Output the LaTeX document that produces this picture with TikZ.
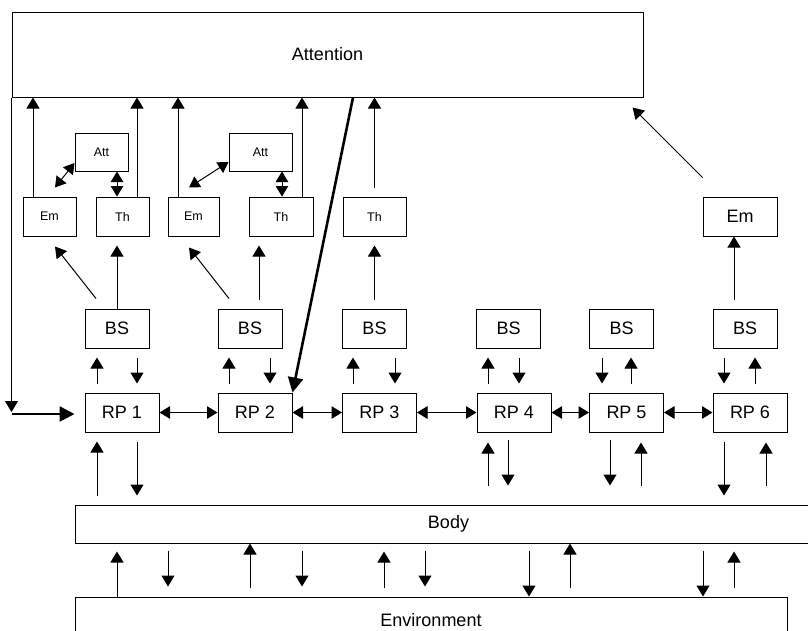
\documentclass[tikz,border=0pt]{standalone}
\usepackage{fontspec}
\setmainfont{Liberation Sans}
\usetikzlibrary{arrows.meta, calc}

\begin{document}
\begin{tikzpicture}[
    x=1pt, y=-1pt,
    box/.style={draw, line width=1pt, inner sep=0pt, font=\fontsize{18}{20}\selectfont},
    smallbox/.style={box, font=\fontsize{12.5}{14}\selectfont},
    bsbox/.style={box, minimum width=64pt, minimum height=39pt},
    rpbox/.style={box, minimum width=74pt, minimum height=39pt},
    arr/.style={-{Triangle[length=11pt,width=13pt]}, line width=1pt},
    dbl/.style={{Triangle[length=10.5pt,width=12.5pt]}-{Triangle[length=10.5pt,width=12.5pt]}, line width=1pt},
    heavy/.style={-{Triangle[length=15pt,width=15pt]}, line width=2.6pt},
    gap/.style={shorten <=9pt, shorten >=9pt}]
  \useasboundingbox (0,0) rectangle (808,630);
  \clip (0,0) rectangle (808,630);

  % top layer
  \node[box, minimum width=631pt, minimum height=85pt] (attn) at (327.5,54.5) {Attention};
  \node[smallbox, minimum width=53pt, minimum height=38pt] (att1) at (101.5,152) {Att};
  \node[smallbox, minimum width=63pt, minimum height=38pt] (att2) at (260.5,152) {Att};
  \node[smallbox, minimum width=53pt, minimum height=39pt] (em1) at (49.5,216.5) {Em};
  \node[smallbox, minimum width=53pt, minimum height=39pt] (th1) at (122.5,216.5) {Th};
  \node[smallbox, minimum width=51pt, minimum height=39pt] (em2) at (193.5,216.5) {Em};
  \node[smallbox, minimum width=64pt, minimum height=39pt] (th2) at (281,216.5) {Th};
  \node[smallbox, minimum width=63pt, minimum height=39pt] (th3) at (374.5,216.5) {Th};
  \node[box, minimum width=74pt, minimum height=39pt] (em3) at (740,216.5) {Em};

  % BS and RP rows
  \node[bsbox] (bs1) at (117,328.5) {BS};
  \node[bsbox] (bs2) at (250,328.5) {BS};
  \node[bsbox] (bs3) at (374.5,328.5) {BS};
  \node[bsbox] (bs4) at (508.5,328.5) {BS};
  \node[bsbox] (bs5) at (621.5,328.5) {BS};
  \node[bsbox] (bs6) at (745,328.5) {BS};
  \node[rpbox] (rp1) at (122,412.5) {RP 1};
  \node[rpbox] (rp2) at (255,412.5) {RP 2};
  \node[rpbox] (rp3) at (379.5,412.5) {RP 3};
  \node[rpbox] (rp4) at (514,412.5) {RP 4};
  \node[rpbox] (rp5) at (626.5,412.5) {RP 5};
  \node[rpbox] (rp6) at (750,412.5) {RP 6};

  % body and environment
  \node[box, minimum width=747pt, minimum height=38pt] (body) at (448.5,524) {Body};
  \node[box, minimum width=712pt, minimum height=46pt] (env) at (431,620) {Environment};

  % into attention
  \draw[arr] (33,0 |- em1.north) -- (33,0 |- attn.south);
  \draw[arr] (137,0 |- th1.north) -- (137,0 |- attn.south);
  \draw[arr] (178,0 |- em2.north) -- (178,0 |- attn.south);
  \draw[arr] (302,0 |- th2.north) -- (302,0 |- attn.south);
  \draw[arr, shorten <=9pt] (th3.north) -- (th3.north |- attn.south);
  \draw[arr] ($(em3.north west)+(0,-19)$) -- ($(attn.south east)+(-11,10)$);
  \draw[dbl] ($(em1.north)+(5.5,-9)$) -- ($(att1.west)+(0,11)$);
  \draw[dbl] (117,0 |- att1.south) -- (117,0 |- th1.north);
  \draw[dbl] ($(em2.north)+(-4.5,-9)$) -- ($(att2.west)+(0,10)$);
  \draw[dbl] (282,0 |- att2.south) -- (282,0 |- th2.north);

  % BS up to Em/Th
  \draw[arr] ($(bs1.north)+(-21,-10)$) -- ($(em1.south)+(5.5,10)$);
  \draw[arr, shorten >=9pt] (bs1.north) -- (bs1.north |- th1.south);
  \draw[arr] ($(bs2.north)+(-21,-10)$) -- ($(em2.south)+(-4.5,11)$);
  \draw[arr, gap] (259,0 |- bs2.north) -- (259,0 |- th2.south);
  \draw[arr, gap] (bs3.north) -- (th3.south);
  \draw[arr, shorten <=9pt] (734,0 |- bs6.north) -- (734,0 |- em3.south);

  % attention back down
  \coordinate (turn) at (12,414);
  \draw[heavy] (353,0 |- attn.south) -- (rp2.north east);
  \draw[arr, shorten >=2pt] (attn.south west) -- (attn.south west |- turn);
  \draw[heavy, shorten >=10pt] (turn) -- (turn -| rp1.west);

  % BS <-> RP
  \draw[arr, gap] (97,0 |- rp1.north) -- (97,0 |- bs1.south); \draw[arr, gap] (137,0 |- bs1.south) -- (137,0 |- rp1.north);
  \draw[arr, gap] (229,0 |- rp2.north) -- (229,0 |- bs2.south); \draw[arr, gap] (270,0 |- bs2.south) -- (270,0 |- rp2.north);
  \draw[arr, gap] (353,0 |- rp3.north) -- (353,0 |- bs3.south); \draw[arr, gap] (395,0 |- bs3.south) -- (395,0 |- rp3.north);
  \draw[arr, gap] (488,0 |- rp4.north) -- (488,0 |- bs4.south); \draw[arr, gap] (519,0 |- bs4.south) -- (519,0 |- rp4.north);
  \draw[arr, gap] (602,0 |- bs5.south) -- (602,0 |- rp5.north); \draw[arr, gap] (631,0 |- rp5.north) -- (631,0 |- bs5.south);
  \draw[arr, gap] (724,0 |- bs6.south) -- (724,0 |- rp6.north); \draw[arr, gap] (755,0 |- rp6.north) -- (755,0 |- bs6.south);

  % RP chain
  \draw[dbl] (rp1) -- (rp2); \draw[dbl] (rp2) -- (rp3); \draw[dbl] (rp3) -- (rp4);
  \draw[dbl] (rp4) -- (rp5); \draw[dbl] (rp5) -- (rp6);

  % RP <-> body
  \draw[arr, gap] (97,0 |- body.north) -- (97,0 |- rp1.south); \draw[arr, gap] (137,0 |- rp1.south) -- (137,0 |- body.north);
  \draw[arr, shorten <=19pt, shorten >=10pt] (488,0 |- body.north) -- (488,0 |- rp4.south);
  \draw[arr, shorten <=7pt, shorten >=19pt] (508,0 |- rp4.south) -- (508,0 |- body.north);
  \draw[arr, shorten <=7pt, shorten >=19pt] (610,0 |- rp5.south) -- (610,0 |- body.north);
  \draw[arr, shorten <=19pt, shorten >=10pt] (641,0 |- body.north) -- (641,0 |- rp5.south);
  \draw[arr, gap] (724,0 |- rp6.south) -- (724,0 |- body.north);
  \draw[arr, shorten <=19pt, shorten >=10pt] (766,0 |- body.north) -- (766,0 |- rp6.south);

  % body <-> environment
  \draw[arr, shorten >=8pt] (117,0 |- env.north) -- (117,0 |- body.south);
  \draw[arr, shorten <=7pt, shorten >=10pt] (168,0 |- body.south) -- (168,0 |- env.north);
  \draw[arr, shorten <=9pt] (250,0 |- env.north) -- (250,0 |- body.south);
  \draw[arr, shorten <=7pt, shorten >=10pt] (302,0 |- body.south) -- (302,0 |- env.north);
  \draw[arr, shorten <=9pt, shorten >=8pt] (384,0 |- env.north) -- (384,0 |- body.south);
  \draw[arr, shorten <=7pt, shorten >=10pt] (425,0 |- body.south) -- (425,0 |- env.north);
  \draw[arr, shorten <=7pt] (529,0 |- body.south) -- (529,0 |- env.north);
  \draw[arr, shorten <=9pt] (570,0 |- env.north) -- (570,0 |- body.south);
  \draw[arr, shorten <=7pt] (703,0 |- body.south) -- (703,0 |- env.north);
  \draw[arr, shorten <=9pt, shorten >=8pt] (734,0 |- env.north) -- (734,0 |- body.south);
\end{tikzpicture}
\end{document}
